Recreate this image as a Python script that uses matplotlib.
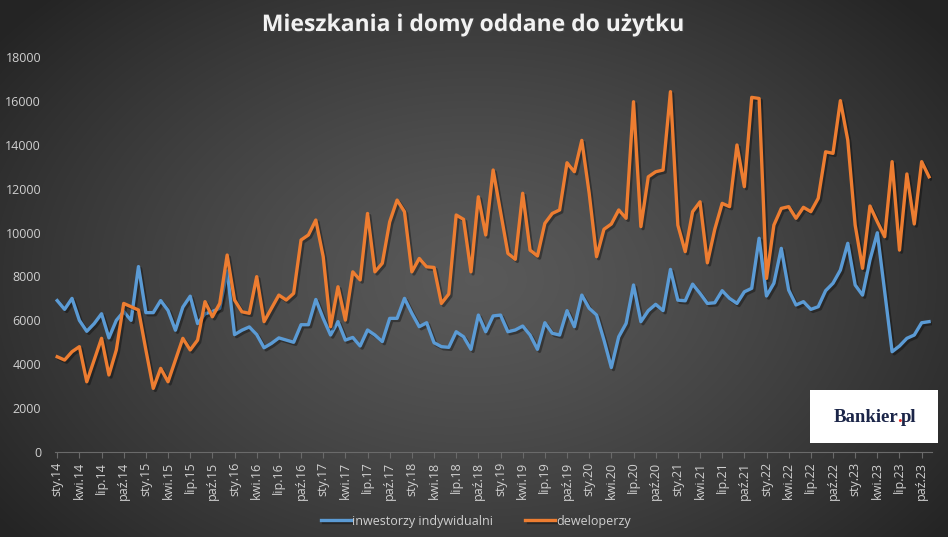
import numpy as np
import matplotlib
matplotlib.use("Agg")
import matplotlib.pyplot as plt
import matplotlib.patheffects as pe
from matplotlib.patches import Rectangle

# miesiące: sty.14 .. lis.23
months = ['sty', 'lut', 'mar', 'kwi', 'maj', 'cze', 'lip', 'sie', 'wrz', 'paź', 'lis', 'gru']
years = list(range(14, 24))
labels = ['%s.%d' % (m, y) for y in years for m in months][:119]

inwestorzy = [6900, 6500, 7000, 6000, 5500, 5850, 6300, 5200, 6000, 6400, 6000, 8450,
              6350, 6350, 6900, 6450, 5550, 6600, 7100, 5850, 6300, 6400, 6550, 8250,
              5350, 5550, 5700, 5350, 4750, 4950, 5200, 5100, 5000, 5800, 5800, 6950,
              6090, 5330, 5940, 5100, 5220, 4830, 5560, 5330, 5030, 6090, 6090, 7000,
              6320, 5710, 5890, 4980, 4800, 4770, 5480, 5250, 4680, 6240, 5480, 6200,
              6240, 5480, 5560, 5740, 5330, 4680, 5890, 5410, 5330, 6440, 5710, 7150,
              6550, 6240, 5100, 3850, 5250, 5860, 7610, 5940, 6440, 6730, 6440, 8320,
              6920, 6890, 7650, 7230, 6770, 6800, 7350, 7000, 6770, 7300, 7460, 9740,
              7110, 7690, 9280, 7380, 6700, 6850, 6500, 6620, 7350, 7690, 8290, 9510,
              7610, 7150, 8750, 9990, 7300, 4570, 4830, 5180, 5330, 5890, 5940]

deweloperzy = [4340, 4190, 4570, 4800, 3200, 4190, 5180, 3510, 4650, 6770, 6620, 6470,
               4650, 2900, 3810, 3200, 4190, 5180, 4650, 5100, 6850, 6160, 6770, 8975,
               6925, 6390, 6320, 7990, 5940, 6550, 7150, 6925, 7230, 9660, 9890, 10570,
               8900, 5710, 7530, 6010, 8210, 7840, 10870, 8210, 8600, 10490, 11480, 10950,
               8210, 8820, 8440, 8410, 6770, 7200, 10800, 10600, 8210, 11630, 9890, 12850,
               10950, 9050, 8780, 11790, 9200, 8930, 10420, 10870, 11030, 13180, 12770, 14200,
               11790, 8900, 10150, 10390, 11030, 10650, 15960, 10270, 12540, 12770, 12850, 16420,
               10340, 9130, 10950, 11400, 8620, 10150, 11330, 11180, 13990, 12090, 16160, 16110,
               7910, 10340, 11100, 11180, 10650, 11150, 10950, 11560, 13680, 13610, 16010, 14210,
               10340, 8370, 11210, 10490, 9810, 13230, 9200, 12670, 10390, 13230, 12540]

W, H = 948, 537
fig = plt.figure(figsize=(W / 100, H / 100), dpi=100)

# tło - gradient radialny
bg = fig.add_axes([0, 0, 1, 1])
yy, xx = np.mgrid[0:H, 0:W]
r = np.sqrt(((xx - W * 0.5) / (W * 0.62)) ** 2 + ((yy - H * 0.52) / (H * 0.75)) ** 2)
r = np.clip(r, 0, 1)
c = 0.35 - (0.35 - 0.145) * r ** 1.3
bg.imshow(np.dstack([c, c, c]), extent=[0, 1, 0, 1], aspect='auto', interpolation='bilinear')
bg.axis('off')

ax = fig.add_axes([55 / W, (H - 452) / H, (932 - 55) / W, (452 - 57) / H])
ax.patch.set_alpha(0)

x = np.arange(len(labels))
shadow = [pe.SimpleLineShadow(offset=(1.5, -1.5), alpha=0.35, shadow_color='black'), pe.Normal()]
ax.plot(x, inwestorzy, color='#5B9BD5', lw=2.4, solid_joinstyle='round', label='inwestorzy indywidualni',
        path_effects=shadow)
ax.plot(x, deweloperzy, color='#ED7D31', lw=2.4, solid_joinstyle='round', label='deweloperzy',
        path_effects=shadow)

ax.set_xlim(-0.3, 118.4)
ax.set_ylim(0, 18000)
ax.set_yticks(range(0, 18001, 2000))
ax.set_xticks(x[::3])
ax.set_xticklabels(labels[::3], rotation=90)
for s in ['top', 'right', 'left']:
    ax.spines[s].set_visible(False)
ax.spines['bottom'].set_color('#6a6a6a')
ax.tick_params(axis='x', colors='#d0d0d0', labelsize=9, length=4, color='#6a6a6a', pad=3)
ax.tick_params(axis='y', colors='#d0d0d0', labelsize=9, length=0, pad=10)
for t in ax.get_xticklabels() + ax.get_yticklabels():
    t.set_fontfamily('Open Sans')

fig.text(473 / W, 1 - 25 / H, 'Mieszkania i domy oddane do użytku', ha='center', va='center',
         fontsize=16.5, fontweight='bold', color='#f2f2f2', fontfamily='Open Sans',
         path_effects=[pe.withSimplePatchShadow(offset=(1, -1), alpha=0.5)])

leg = fig.legend(loc='center', bbox_to_anchor=(476 / W, 1 - 521 / H), ncol=2, frameon=False,
                 handlelength=2.4, handletextpad=0.1, columnspacing=2.6,
                 prop={'family': 'Open Sans', 'size': 9})
for t in leg.get_texts():
    t.set_color('#d0d0d0')

# logo
fig.patches.append(Rectangle((810 / W, 1 - 443 / H), 128 / W, 53 / H, transform=fig.transFigure,
                             facecolor='white', edgecolor='none', zorder=5))
fig.text(898 / W, 1 - 418 / H, 'Bankier', ha='right', va='center', fontsize=13.5, fontweight='bold',
         color='#1b2548', fontfamily='Liberation Serif', zorder=6)
fig.text(897 / W, 1 - 418 / H, '.', ha='left', va='center', fontsize=13.5, fontweight='bold',
         color='#e3342f', fontfamily='Liberation Serif', zorder=6)
fig.text(901 / W, 1 - 418 / H, 'pl', ha='left', va='center', fontsize=13.5, fontweight='bold',
         color='#1b2548', fontfamily='Liberation Serif', zorder=6)

fig.savefig('out.png', dpi=100)
